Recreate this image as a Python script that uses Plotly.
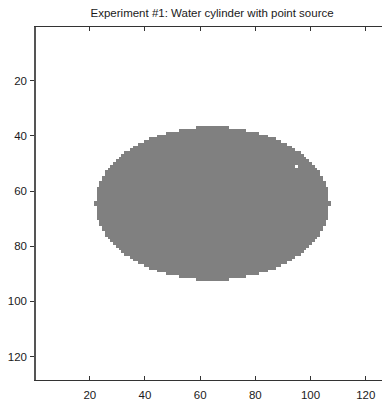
import plotly.graph_objects as go

# Image grid size
n_rows = 128
n_cols = 128

# Cylinder mask: for each image row, first and last filled column
mask_rows = list(range(37, 93))
mask_left = [59, 53, 48, 45, 42, 40, 38, 36, 35, 33, 32, 31, 30, 29, 28, 27, 26, 26, 25, 25,
             24, 24, 23, 23, 23, 23, 23, 22,
             22, 23, 23, 23, 23, 23, 24, 24, 25, 25, 26, 26, 27, 28, 29, 30, 31, 32, 33, 35,
             36, 38, 40, 42, 45, 48, 53, 59]
mask_right = [70, 76, 81, 84, 87, 89, 91, 93, 94, 96, 97, 98, 99, 100, 101, 102, 103, 103, 104, 104,
              105, 105, 106, 106, 106, 106, 106, 107,
              107, 106, 106, 106, 106, 106, 105, 105, 104, 104, 103, 103, 102, 101, 100, 99, 98, 97, 96, 94,
              93, 91, 89, 87, 84, 81, 76, 70]

# Point source location (column, row)
point_col = 95
point_row = 51

# Values: background, water, source
bg_val, water_val, src_val = 0.0, 0.5, 1.0

x_ticks = [20, 40, 60, 80, 100, 120]
y_ticks = [20, 40, 60, 80, 100, 120]

title_text = "Experiment #1: Water cylinder with point source"

z = [[bg_val] * n_cols for _ in range(n_rows)]
for r, lo, hi in zip(mask_rows, mask_left, mask_right):
    for c in range(lo, hi + 1):
        z[r - 1][c - 1] = water_val
z[point_row - 1][point_col - 1] = src_val

fig = go.Figure(go.Heatmap(
    z=z,
    x=list(range(1, n_cols + 1)),
    y=list(range(1, n_rows + 1)),
    colorscale=[[0, "#ffffff"], [0.5, "#808080"], [1, "#ffffff"]],
    zmin=0, zmax=1,
    showscale=False,
    zsmooth=False,
    hoverinfo="skip",
))

font = dict(family="Liberation Sans, Arial, Helvetica, sans-serif", size=11.5, color="#1a1a1a")

fig.update_layout(
    width=382, height=404,
    margin=dict(l=36, r=0, t=27, b=24, pad=0),
    paper_bgcolor="white", plot_bgcolor="white",
    font=font,
    title=dict(text=title_text, x=0.509, xref="paper", xanchor="center",
               y=1 - 13 / 404, yref="container", yanchor="middle",
               font=dict(size=11.5, color="#1a1a1a")),
    xaxis=dict(range=[0.5, 125.9], tickvals=x_ticks, ticks="inside", ticklen=4,
               tickcolor="#333333", showline=True, linecolor="#333333", linewidth=1,
               mirror="ticks", showgrid=False, zeroline=False, ticklabelstandoff=4),
    yaxis=dict(range=[128.5, 0.5], tickvals=y_ticks, ticks="outside", ticklen=4,
               tickcolor="#333333", showline=True, linecolor="#555555", linewidth=1.5,
               showgrid=False, zeroline=False, ticklabelstandoff=1),
)

fig.write_html("out.html")
